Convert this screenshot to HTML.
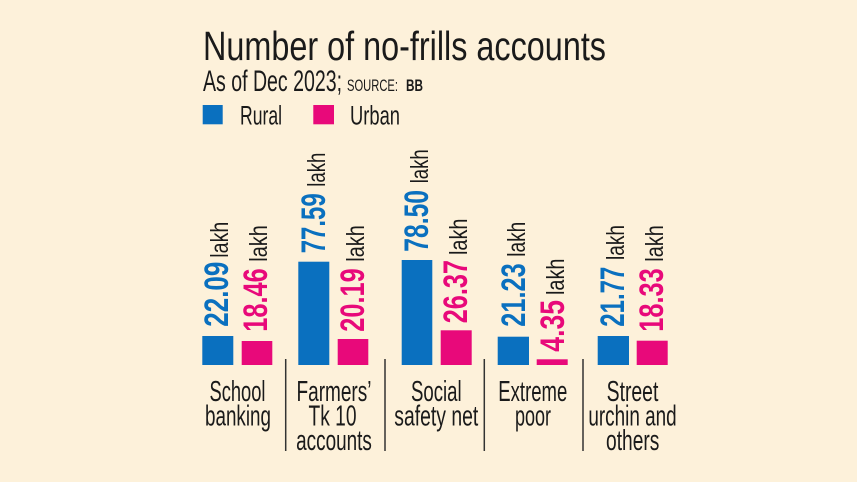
<!DOCTYPE html>
<html><head><meta charset="utf-8"><style>
html,body{margin:0;padding:0;background:#fdf1da;}
svg{display:block;}
text{font-family:"Liberation Sans",sans-serif;fill:#1a1a1a;}
.n{font-weight:bold;font-size:34px;}
.l{font-size:25px;}
.c{font-size:29px;text-anchor:middle;}
</style></head><body>
<svg width="857" height="482" viewBox="0 0 857 482" xmlns="http://www.w3.org/2000/svg">
<rect width="857" height="482" fill="#fdf1da"/>
<text x="203" y="60" font-size="41" textLength="403" lengthAdjust="spacingAndGlyphs">Number of no-frills accounts</text>
<text x="203" y="91" font-size="30" textLength="139" lengthAdjust="spacingAndGlyphs">As of Dec 2023;</text>
<text x="347" y="91" font-size="17" textLength="51" lengthAdjust="spacingAndGlyphs">SOURCE:</text>
<text x="406" y="91" font-size="17" font-weight="bold" textLength="17" lengthAdjust="spacingAndGlyphs">BB</text>
<rect x="202.7" y="105" width="20" height="19.3" fill="#0a70bf"/>
<text x="240" y="124.3" font-size="26.5" textLength="42" lengthAdjust="spacingAndGlyphs">Rural</text>
<rect x="313.3" y="105" width="20.7" height="19.3" fill="#e8097a"/>
<text x="350" y="124.3" font-size="26.5" textLength="50" lengthAdjust="spacingAndGlyphs">Urban</text>

<g>
<rect x="202.3" y="336" width="31" height="29" fill="#0a70bf"/>
<rect x="241.7" y="341" width="30.6" height="24" fill="#e8097a"/>
<rect x="298.3" y="261.7" width="31" height="103.3" fill="#0a70bf"/>
<rect x="337.7" y="339" width="30.6" height="26" fill="#e8097a"/>
<rect x="401.7" y="260" width="30.6" height="105" fill="#0a70bf"/>
<rect x="440.7" y="330.3" width="31" height="34.7" fill="#e8097a"/>
<rect x="497.7" y="336.7" width="31.3" height="28.3" fill="#0a70bf"/>
<rect x="536.7" y="359.3" width="31" height="5.7" fill="#e8097a"/>
<rect x="597.7" y="336" width="31.3" height="29" fill="#0a70bf"/>
<rect x="636.7" y="340.7" width="31" height="24.3" fill="#e8097a"/>
</g>

<g stroke="#333" stroke-width="1.5">
<line x1="285.7" y1="359" x2="285.7" y2="451"/>
<line x1="385" y1="359" x2="385" y2="451"/>
<line x1="484.3" y1="359" x2="484.3" y2="451"/>
<line x1="583" y1="359" x2="583" y2="451"/>
</g>

<g transform="translate(228,326.7) rotate(-90)">
<text class="n" x="0" y="0" style="fill:#0a70bf" textLength="65" lengthAdjust="spacingAndGlyphs">22.09</text>
<text class="l" x="69" y="0" textLength="36" lengthAdjust="spacingAndGlyphs">lakh</text></g>
<g transform="translate(267,331.7) rotate(-90)">
<text class="n" x="0" y="0" style="fill:#e8097a" textLength="63.4" lengthAdjust="spacingAndGlyphs">18.46</text>
<text class="l" x="70" y="0" textLength="36.5" lengthAdjust="spacingAndGlyphs">lakh</text></g>
<g transform="translate(325,253.3) rotate(-90)">
<text class="n" x="0" y="0" style="fill:#0a70bf" textLength="60" lengthAdjust="spacingAndGlyphs">77.59</text>
<text class="l" x="66.6" y="0" textLength="34" lengthAdjust="spacingAndGlyphs">lakh</text></g>
<g transform="translate(364,331.7) rotate(-90)">
<text class="n" x="0" y="0" style="fill:#e8097a" textLength="63.4" lengthAdjust="spacingAndGlyphs">20.19</text>
<text class="l" x="70" y="0" textLength="36.5" lengthAdjust="spacingAndGlyphs">lakh</text></g>
<g transform="translate(428,251.7) rotate(-90)">
<text class="n" x="0" y="0" style="fill:#0a70bf" textLength="61.7" lengthAdjust="spacingAndGlyphs">78.50</text>
<text class="l" x="68.4" y="0" textLength="34" lengthAdjust="spacingAndGlyphs">lakh</text></g>
<g transform="translate(467,323.3) rotate(-90)">
<text class="n" x="0" y="0" style="fill:#e8097a" textLength="63.3" lengthAdjust="spacingAndGlyphs">26.37</text>
<text class="l" x="68.3" y="0" textLength="36.5" lengthAdjust="spacingAndGlyphs">lakh</text></g>
<g transform="translate(525,326.7) rotate(-90)">
<text class="n" x="0" y="0" style="fill:#0a70bf" textLength="63.4" lengthAdjust="spacingAndGlyphs">21.23</text>
<text class="l" x="70" y="0" textLength="35" lengthAdjust="spacingAndGlyphs">lakh</text></g>
<g transform="translate(564,351.7) rotate(-90)">
<text class="n" x="0" y="0" style="fill:#e8097a" textLength="51.7" lengthAdjust="spacingAndGlyphs">4.35</text>
<text class="l" x="56.7" y="0" textLength="36.5" lengthAdjust="spacingAndGlyphs">lakh</text></g>
<g transform="translate(624,326.7) rotate(-90)">
<text class="n" x="0" y="0" style="fill:#0a70bf" textLength="60" lengthAdjust="spacingAndGlyphs">21.77</text>
<text class="l" x="66.7" y="0" textLength="35" lengthAdjust="spacingAndGlyphs">lakh</text></g>
<g transform="translate(663,331.7) rotate(-90)">
<text class="n" x="0" y="0" style="fill:#e8097a" textLength="63.4" lengthAdjust="spacingAndGlyphs">18.33</text>
<text class="l" x="70" y="0" textLength="36.5" lengthAdjust="spacingAndGlyphs">lakh</text></g>

<text class="c" x="237.5" y="401" textLength="56" lengthAdjust="spacingAndGlyphs">School</text>
<text class="c" x="238" y="425.5" textLength="66" lengthAdjust="spacingAndGlyphs">banking</text>
<text class="c" x="334" y="401" textLength="75" lengthAdjust="spacingAndGlyphs">Farmers’</text>
<text class="c" x="332.5" y="425.5" textLength="48" lengthAdjust="spacingAndGlyphs">Tk 10</text>
<text class="c" x="334" y="450" textLength="75.7" lengthAdjust="spacingAndGlyphs">accounts</text>
<text class="c" x="436.3" y="401" textLength="50.7" lengthAdjust="spacingAndGlyphs">Social</text>
<text class="c" x="436.3" y="425.5" textLength="84" lengthAdjust="spacingAndGlyphs">safety net</text>
<text class="c" x="532.8" y="401" textLength="69" lengthAdjust="spacingAndGlyphs">Extreme</text>
<text class="c" x="533" y="425.5" textLength="36" lengthAdjust="spacingAndGlyphs">poor</text>
<text class="c" x="632.5" y="401" textLength="51.7" lengthAdjust="spacingAndGlyphs">Street</text>
<text class="c" x="632.5" y="425.5" textLength="88.3" lengthAdjust="spacingAndGlyphs">urchin and</text>
<text class="c" x="632.7" y="450" textLength="53.3" lengthAdjust="spacingAndGlyphs">others</text>
</svg>
</body></html>
